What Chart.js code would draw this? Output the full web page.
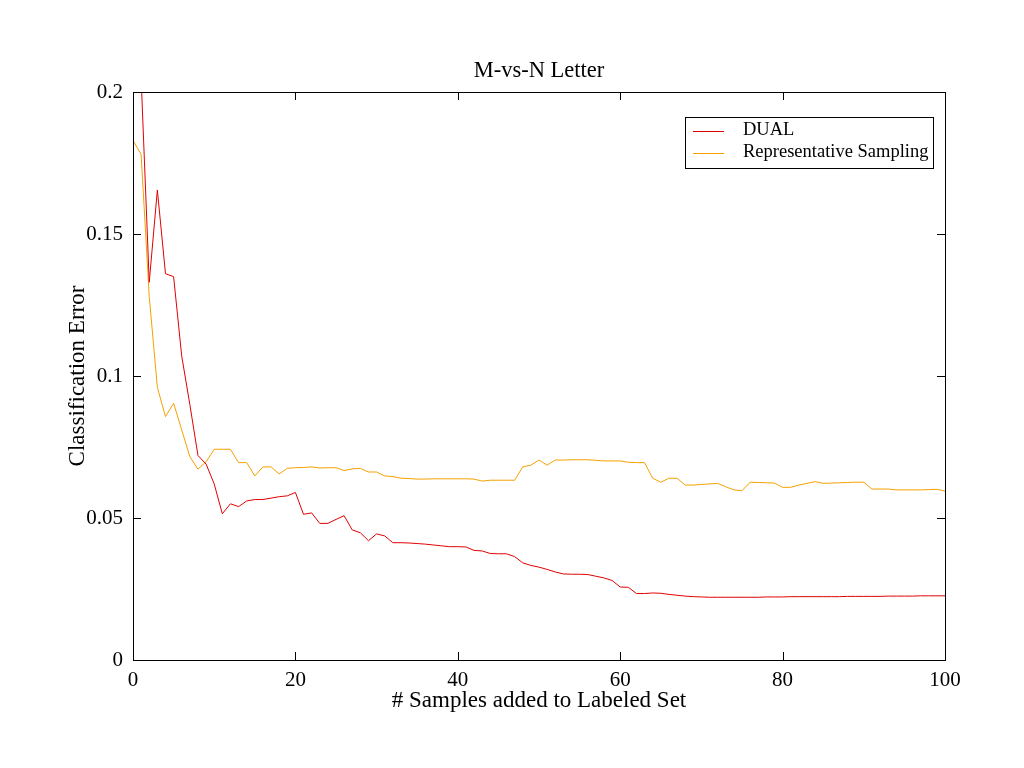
<!DOCTYPE html>
<html>
<head>
<meta charset="utf-8">
<script src="https://cdn.jsdelivr.net/npm/chart.js@4/dist/chart.umd.min.js"></script>
<style>
html,body{margin:0;padding:0;background:#fff;}
#wrap{width:1024px;height:768px;}
</style>
</head>
<body>
<div id="wrap"><canvas id="c" width="1024" height="768"></canvas></div>
<script>
const samples = [0,1,2,3,4,5,6,7,8,9,10,11,12,13,14,15,16,17,18,19,20,21,22,23,24,25,26,27,28,29,30,31,32,33,34,35,36,37,38,39,40,41,42,43,44,45,46,47,48,49,50,51,52,53,54,55,56,57,58,59,60,61,62,63,64,65,66,67,68,69,70,71,72,73,74,75,76,77,78,79,80,81,82,83,84,85,86,87,88,89,90,91,92,93,94,95,96,97,98,99,100];

const dual = [0.28,0.205,0.133,0.1655,0.136,0.135,0.107,0.090,0.072,0.069,
0.062,0.0515,0.055,0.054,0.056,0.0565,0.0565,0.057,0.0575,0.0578,
0.059,0.0513,0.0518,0.0481,0.0481,0.0495,0.0508,0.0458,0.0448,0.042,
0.0444,0.0437,0.0413,0.0413,0.0412,0.041,0.0408,0.0405,0.0402,0.0399,
0.0399,0.0398,0.0386,0.0384,0.0375,0.0374,0.0374,0.0364,0.0342,0.0333,
0.0327,0.0319,0.0310,0.0303,0.0302,0.0302,0.0301,0.0295,0.0289,0.0280,
0.0257,0.0256,0.0234,0.0234,0.0236,0.0235,0.0231,0.0228,0.0225,0.0223,
0.0222,0.0221,0.0221,0.0221,0.0221,0.0221,0.0221,0.0221,0.0222,0.0222,
0.0222,0.0223,0.0223,0.0223,0.0223,0.0223,0.0223,0.0223,0.0224,0.0224,
0.0224,0.0224,0.0224,0.0225,0.0225,0.0225,0.0225,0.0226,0.0226,0.0226,
0.0226];

const representative = [0.183,0.178,0.128,0.096,0.0857,0.0904,0.081,0.0716,0.0672,0.0698,
0.0742,0.0742,0.0742,0.0695,0.0695,0.0648,0.068,0.068,0.0655,0.0675,
0.0677,0.0678,0.068,0.0676,0.0677,0.0677,0.0667,0.0673,0.0675,0.0662,
0.0662,0.0648,0.0646,0.064,0.0639,0.0637,0.0637,0.0638,0.0638,0.0638,
0.0638,0.0638,0.0637,0.063,0.0633,0.0633,0.0633,0.0633,0.068,0.0686,
0.0704,0.0686,0.0704,0.0704,0.0705,0.0705,0.0705,0.0703,0.0701,0.0701,
0.0701,0.0696,0.0695,0.0695,0.064,0.0626,0.064,0.064,0.0616,0.0616,
0.0618,0.062,0.0622,0.061,0.0599,0.0596,0.0626,0.0625,0.0624,0.0623,
0.0608,0.0608,0.0616,0.0622,0.0628,0.0622,0.0623,0.0624,0.0625,0.0626,
0.0626,0.0602,0.0602,0.0602,0.0599,0.0599,0.0599,0.0599,0.06,0.0601,
0.0595];

const seriesLabels = ['DUAL', 'Representative Sampling'];
const seriesColors = ['#e00000', '#f5a000'];
const chartTitle = 'M-vs-N Letter';
const xTitle = '# Samples added to Labeled Set';
const yTitle = 'Classification Error';

const SERIF = '"Liberation Serif", "Times New Roman", serif';

function toPoints(xs, ys) { return xs.map((x, i) => ({x: x, y: ys[i]})); }

const frameTicks = {
  id: 'frameTicks',
  afterDraw(chart) {
    const ctx = chart.ctx, a = chart.chartArea;
    const xs = chart.scales.x, ys = chart.scales.y;
    const L = 8;
    ctx.save();
    ctx.strokeStyle = '#000';
    ctx.lineWidth = 1;
    ctx.strokeRect(Math.round(a.left) + 0.5, Math.round(a.top) + 0.5, Math.round(a.right - a.left), Math.round(a.bottom - a.top));
    ctx.beginPath();
    ys.ticks.forEach(t => {
      const y = Math.round(ys.getPixelForValue(t.value)) + 0.5;
      ctx.moveTo(a.left, y); ctx.lineTo(a.left + L, y);
      ctx.moveTo(a.right, y); ctx.lineTo(a.right - L, y);
    });
    xs.ticks.forEach(t => {
      const x = Math.round(xs.getPixelForValue(t.value)) + 0.5;
      ctx.moveTo(x, a.bottom); ctx.lineTo(x, a.bottom - L);
      ctx.moveTo(x, a.top); ctx.lineTo(x, a.top + L);
    });
    ctx.stroke();
    ctx.restore();
  }
};

const boxLegend = {
  id: 'boxLegend',
  afterDraw(chart) {
    const ctx = chart.ctx;
    const bx = 685, by = 117, bw = 248, bh = 51;
    ctx.save();
    ctx.fillStyle = '#fff';
    ctx.fillRect(bx, by, bw, bh);
    ctx.strokeStyle = '#000';
    ctx.lineWidth = 1;
    ctx.strokeRect(bx + 0.5, by + 0.5, bw, bh);
    ctx.font = '18.5px ' + SERIF;
    ctx.textBaseline = 'middle';
    ctx.textAlign = 'left';
    chart.data.datasets.forEach((ds, i) => {
      const y = by + 13.5 + i * 22;
      ctx.strokeStyle = ds.borderColor;
      ctx.beginPath();
      ctx.moveTo(bx + 8, Math.round(y) + 0.5);
      ctx.lineTo(bx + 39, Math.round(y) + 0.5);
      ctx.stroke();
      ctx.fillStyle = '#000';
      ctx.fillText(ds.label, bx + 58, y);
    });
    ctx.restore();
  }
};

new Chart(document.getElementById('c'), {
  type: 'line',
  data: {
    datasets: [
      { label: seriesLabels[0], data: toPoints(samples, dual), borderColor: seriesColors[0], borderWidth: 1, pointRadius: 0, fill: false, tension: 0 },
      { label: seriesLabels[1], data: toPoints(samples, representative), borderColor: seriesColors[1], borderWidth: 1, pointRadius: 0, fill: false, tension: 0 }
    ]
  },
  options: {
    responsive: false,
    animation: false,
    layout: { padding: { left: 0, right: 79, top: 0, bottom: 0 } },
    plugins: {
      legend: { display: false },
      tooltip: { enabled: false },
      title: {
        display: true,
        fullSize: false,
        text: chartTitle,
        color: '#000',
        font: { family: SERIF, size: 22.5, weight: 'normal', lineHeight: 1.2 },
        padding: { top: 57.5, bottom: 7.5 }
      }
    },
    scales: {
      x: {
        type: 'linear',
        min: 0, max: 100,
        afterFit(scale) { scale.height = 108; },
        grid: { display: false, drawTicks: false },
        border: { display: false },
        ticks: { stepSize: 20, color: '#000', padding: 8, font: { family: SERIF, size: 21 }, maxRotation: 0 },
        title: { display: true, text: xTitle, color: '#000', font: { family: SERIF, size: 23, lineHeight: 1.2 }, padding: { top: 0, bottom: 53 } }
      },
      y: {
        type: 'linear',
        min: 0, max: 0.2,
        afterFit(scale) { scale.width = 133; },
        grid: { display: false, drawTicks: false },
        border: { display: false },
        ticks: {
          stepSize: 0.05, color: '#000', padding: 10, font: { family: SERIF, size: 21 },
          callback: function (v) { return String(Math.round(v * 100) / 100); }
        },
        title: { display: true, text: yTitle, color: '#000', font: { family: SERIF, size: 23, lineHeight: 1.2 }, padding: { top: 64, bottom: 0 } }
      }
    }
  },
  plugins: [frameTicks, boxLegend]
});
</script>
</body>
</html>
